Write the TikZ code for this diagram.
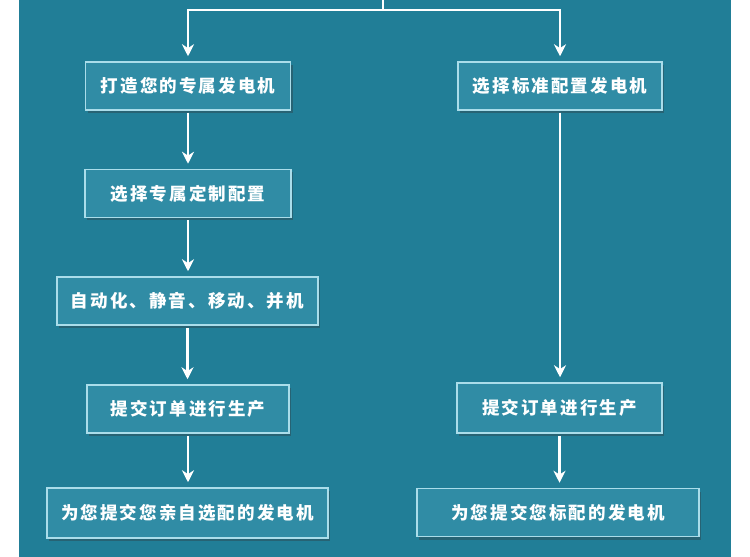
\documentclass[tikz,border=0pt]{standalone}
\usepackage{fontspec}
\usepackage{tikz}
\usetikzlibrary{arrows.meta,shadows}
\newfontfamily\cjk[LetterSpace=12]{Noto Sans CJK SC}
\definecolor{gen_teal}{RGB}{33,126,151}
\definecolor{gen_box}{RGB}{48,140,165}
\definecolor{gen_edge}{RGB}{170,221,234}
\tikzset{
  genbox/.style={draw=gen_edge, line width=1.5bp, fill=gen_box, text=white,
    minimum height=48bp, inner sep=0pt,
    font=\cjk\bfseries\fontsize{17.5bp}{20bp}\selectfont,
    drop shadow={shadow xshift=2bp, shadow yshift=-3bp, opacity=0.35, fill=black!80}},
  flow/.style={draw=white, line width=2.5bp,
    -{Stealth[length=12bp,width=12bp]}, shorten >=5bp, shorten <=2bp}
}
\begin{document}
\begin{tikzpicture}[x=1bp, y=-1bp]
        \useasboundingbox (0,0) rectangle (750,557);
        % Panel
        \fill[white] (0,0) rectangle (750,557);
        \fill[gen_teal] (19,0) rectangle (731,557);
        % Custom route
        \node[genbox, minimum width=205bp] (own) at (188,86) {打造您的专属发电机};
        \node[genbox, minimum width=206bp] (cfg) at (188,193.5) {选择专属定制配置};
        \node[genbox, minimum width=261bp] (opt) at (187.5,301) {自动化、静音、移动、并机};
        \node[genbox, minimum width=202bp] (ordL) at (188,409) {提交订单进行生产};
        \node[genbox, minimum width=281bp, minimum height=50bp] (outL) at (187.5,513)
          {为您提交您亲自选配的发电机};
        % Standard route
        \node[genbox, minimum width=204bp] (std) at (560,86) {选择标准配置发电机};
        \node[genbox, minimum width=205bp, minimum height=50bp] (ordR) at (559.5,408)
          {提交订单进行生产};
        \node[genbox, minimum width=282bp] (outR) at (558,512.5) {为您提交您标配的发电机};
        % Split at the top
        \coordinate (feed) at (383,0);
        \coordinate (split) at (383,10);
        \draw[white, line width=2.5bp] (feed) -- (split);
        \draw[flow, shorten <=0bp] (split) -| (own.north);
        \draw[flow, shorten <=0bp] (split) -| (std.north);
        % Arrows
        \draw[flow] (own.south) -- (own.south |- cfg.north);
        \draw[flow] (cfg.south) -- (cfg.south |- opt.north);
        \draw[flow] (opt.south) -- (opt.south |- ordL.north);
        \draw[flow] (ordL.south) -- (ordL.south |- outL.north);
        \draw[flow] (std.south) -- (std.south |- ordR.north);
        \draw[flow] (ordR.south) -- (ordR.south |- outR.north);
      \end{tikzpicture}
\end{document}
